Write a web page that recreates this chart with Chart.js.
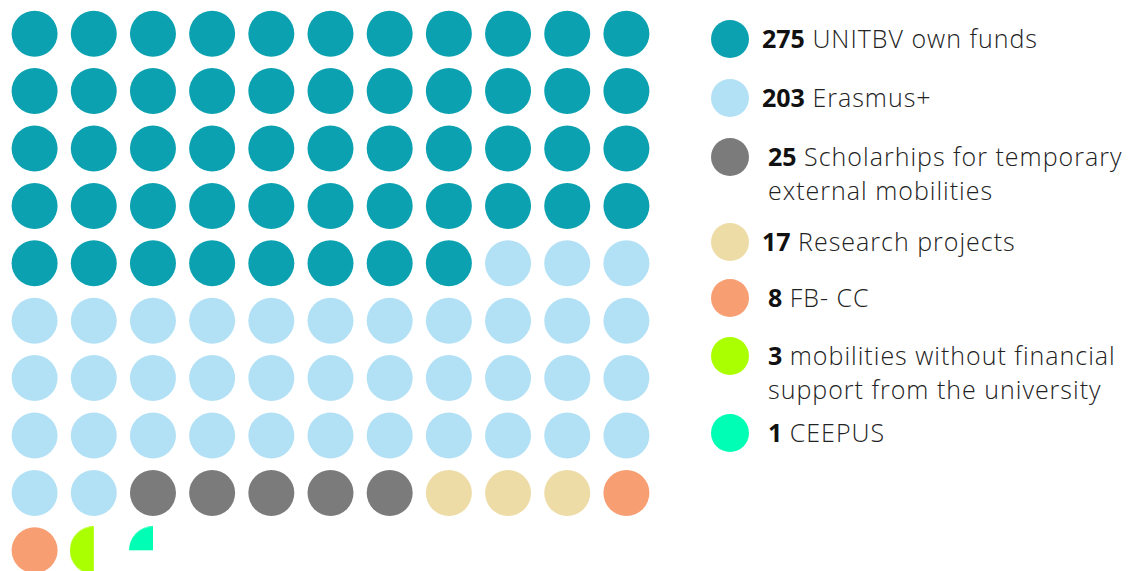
<!DOCTYPE html>
<html>
<head>
<meta charset="utf-8">
<script src="https://cdn.jsdelivr.net/npm/chart.js@4/dist/chart.umd.min.js"></script>
<style>
  html, body { margin: 0; padding: 0; width: 1129px; height: 571px; overflow: hidden; background: #fff; }
  #waffle { position: absolute; left: 5px; top: 5px; width: 651px; height: 574px; }
  #legend { position: absolute; left: 0; top: 0; font-family: "Open Sans", sans-serif; }
  .item { position: absolute; left: 711px; }
  .item .dot { position: absolute; left: 0; top: -19px; width: 38px; height: 38px; border-radius: 50%; }
  .item .txt { position: absolute; left: 51px; top: -18px; width: 380px; font-size: 25px; font-weight: 300;
               line-height: 34px; color: #222; letter-spacing: 1px; white-space: nowrap; }
  .item .txt.shift { left: 57px; }
  .item .txt b { font-weight: 700; color: #111; letter-spacing: 0; }
</style>
</head>
<body>
<div id="waffle"><canvas id="waffleChart"></canvas></div>
<div id="legend"></div>

<script>
/* =====================================================
   DATA
===================================================== */

const categories = [
  "UNITBV own funds",
  "Erasmus+",
  "Scholarhips for temporary|external mobilities",
  "Research projects",
  "FB- CC",
  "mobilities without financial|support from the university",
  "CEEPUS"
];

const mobilities = [275, 203, 25, 17, 8, 3, 1];

const colors = ["#0ba1b0", "#b2e1f6", "#7b7b7b", "#eddca6", "#f79e72", "#aaff00", "#00ffb4"];

const columns = 11;
const totalDots = 100;


/* =====================================================
   DOTS PER CATEGORY (share of 100, small ones in quarters)
===================================================== */

const total = mobilities.reduce((a, b) => a + b, 0);

const dotsPerCategory = mobilities.map(v => {
  const pct = v / total * totalDots;
  return pct >= 1 ? Math.round(pct) : Math.round(pct * 4) / 4;
});

// partial dot image: a sector going anticlockwise from 12 o'clock
function partialDot(fraction, color, r) {
  const c = document.createElement("canvas");
  c.width = r * 2;
  c.height = r * 2;
  const ctx = c.getContext("2d");
  ctx.fillStyle = color;
  ctx.beginPath();
  ctx.moveTo(r, r);
  ctx.arc(r, r, r, -Math.PI / 2 - fraction * Math.PI * 2, -Math.PI / 2);
  ctx.closePath();
  ctx.fill();
  return c;
}

const RADIUS = 23;
let slot = 0;

const datasets = categories.map((name, i) => {
  const points = [];
  const styles = [];
  let left = dotsPerCategory[i];

  while (left > 0) {
    points.push({ x: slot % columns, y: Math.floor(slot / columns) });
    styles.push(left >= 1 ? "circle" : partialDot(left, colors[i], RADIUS + 1));
    left -= 1;
    slot++;
  }

  return {
    label: name.replace("|", " "),
    data: points,
    pointStyle: styles,
    pointRadius: RADIUS,
    pointHoverRadius: RADIUS,
    pointBorderWidth: 0,
    backgroundColor: colors[i],
    borderColor: colors[i],
    clip: false
  };
});


/* =====================================================
   WAFFLE CHART
===================================================== */

new Chart(document.getElementById("waffleChart"), {
  type: "scatter",
  data: { datasets: datasets },
  options: {
    responsive: true,
    maintainAspectRatio: false,
    animation: false,
    layout: { padding: 0, autoPadding: false },
    plugins: {
      legend: { display: false },
      tooltip: { enabled: false }
    },
    scales: {
      x: { display: false, min: -0.5, max: columns - 0.5 },
      y: { display: false, min: -0.5, max: 9.5, reverse: true }
    }
  }
});


/* =====================================================
   LEGEND
===================================================== */

const legendTops = [39, 98, 157, 242, 298, 356, 433];
const shifted = [2, 4, 5, 6];

let html = "";
categories.forEach((name, i) => {
  const lines = name.split("|");
  html += `
    <div class="item" style="top:${legendTops[i]}px">
      <div class="dot" style="background:${colors[i]}"></div>
      <div class="txt${shifted.includes(i) ? " shift" : ""}"><b>${mobilities[i]}</b> ${lines.join("<br>")}</div>
    </div>
  `;
});
document.getElementById("legend").innerHTML = html;
</script>
</body>
</html>
